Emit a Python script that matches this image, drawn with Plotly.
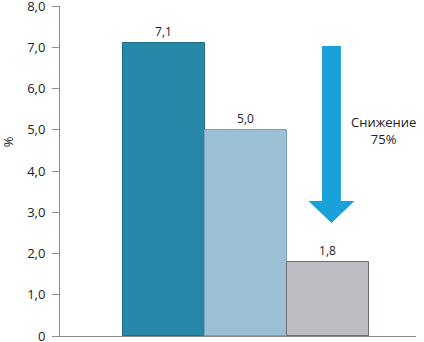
import plotly.graph_objects as go

categories = ["A", "B", "C"]
values = [7.1, 5.0, 1.8]
value_labels = ["7,1", "5,0", "1,8"]
tick_vals = [0, 1, 2, 3, 4, 5, 6, 7, 8]
tick_text = ["0", "1,0", "2,0", "3,0", "4,0", "5,0", "6,0", "7,0", "8,0"]
arrow_text = "Снижение<br>75%"

fill_colors = ["#2787A8", "#9BBFD5", "#BDBDC3"]
line_colors = ["#1F6E8A", "#7F9FB5", "#6E6E78"]

xpos = list(range(len(categories)))

fig = go.Figure()
fig.add_trace(go.Bar(
    x=xpos, y=values, width=1.0,
    marker=dict(color=fill_colors, line=dict(color=line_colors, width=1)),
    text=value_labels, textposition="outside",
    textfont=dict(size=12, color="#222222", family="Open Sans"),
    cliponaxis=False, hoverinfo="skip",
))

# Arrow (decorative)
cx, sw, hw = 2.04, 0.115, 0.28
top, neck, tip = 7.03, 3.27, 2.74
path = (f"M {cx-sw},{top} L {cx+sw},{top} L {cx+sw},{neck} L {cx+hw},{neck} "
        f"L {cx},{tip} L {cx-hw},{neck} L {cx-sw},{neck} Z")
fig.add_shape(type="path", path=path, xref="x", yref="y",
              fillcolor="#1AA0DA", line=dict(width=0))

fig.add_annotation(x=2.67, y=4.99, xref="x", yref="y", text=arrow_text,
                   showarrow=False, font=dict(size=13, color="#222222", family="Open Sans"),
                   align="center")

fig.add_annotation(x=-0.146, y=4.7, xref="paper", yref="y", xanchor="center",
                   text="%", textangle=-90, showarrow=False,
                   font=dict(size=13, color="#222222", family="Open Sans"))

fig.update_layout(
    width=424, height=342,
    margin=dict(l=60, r=8, t=6, b=6, autoexpand=False),
    plot_bgcolor="white", paper_bgcolor="white",
    bargap=0, showlegend=False,
    font=dict(family="Open Sans", size=13, color="#222222"),
    xaxis=dict(range=[-1.268, 3.07], showticklabels=False, ticks="",
               showline=True, linecolor="#8C8C8C", linewidth=1,
               showgrid=False, zeroline=False, automargin=False),
    yaxis=dict(range=[0, 8], tickvals=tick_vals, ticktext=tick_text,
               ticks="outside", ticklen=7, tickcolor="#8C8C8C",
               showline=True, linecolor="#8C8C8C", linewidth=1,
               showgrid=False, zeroline=False, automargin=False,
               ticklabeloverflow="allow", ticklabelstandoff=4,
               tickfont=dict(size=13)),
)

fig.write_html("out.html", config={"displayModeBar": False},
               post_script="document.body.style.margin='0';document.body.style.overflow='hidden';")
